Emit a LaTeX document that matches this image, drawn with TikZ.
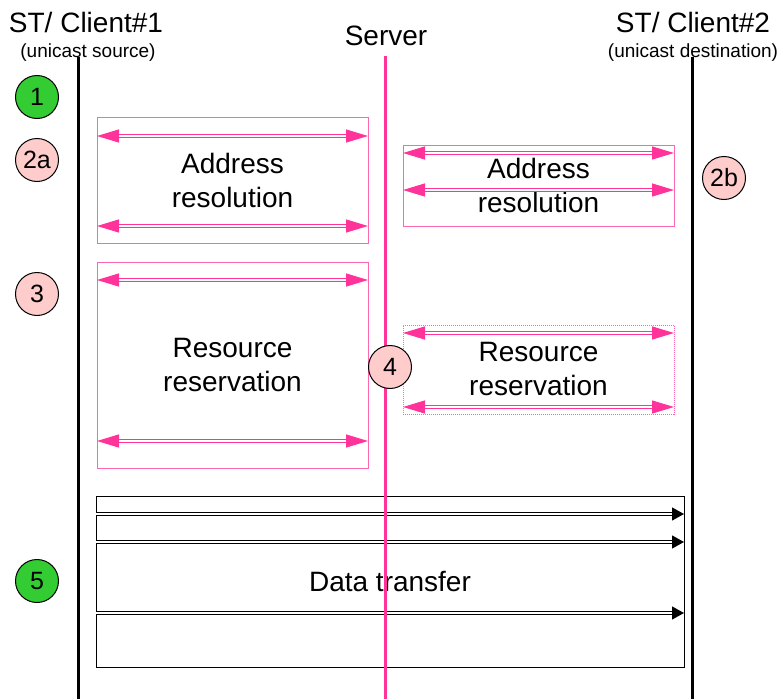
\documentclass[tikz,border=0pt]{standalone}
\usepackage{fontspec}
\setmainfont{Liberation Sans}
\usetikzlibrary{arrows.meta,positioning}
\definecolor{msgpink}{RGB}{255,51,153}
\definecolor{boxpink}{RGB}{255,102,178}
\definecolor{stepgreen}{RGB}{51,204,51}
\definecolor{steprose}{RGB}{255,204,204}

\begin{document}
\begin{tikzpicture}[x=1pt,y=-1pt,
	head node/.style={font=\fontsize{28}{35}\selectfont,inner sep=0pt},
	sub node/.style={font=\fontsize{19}{22}\selectfont,inner sep=0pt},
	step node/.style={circle,draw,line width=1pt,minimum size=43pt,inner sep=0pt,
		font=\fontsize{25}{28}\selectfont},
	pink box/.style={draw=boxpink,line width=1pt,inner sep=0pt,outer sep=0pt,
		align=center,font=\fontsize{28}{34}\selectfont},
	data box/.style={draw=black,line width=1pt,inner sep=0pt,outer sep=0pt,
		font=\fontsize{28}{34}\selectfont},
	msg arrow/.style={draw=msgpink,line width=1.2pt,double,double distance=1.8pt,
		{Triangle[length=22pt,width=13pt,fill=msgpink]}-{Triangle[length=22pt,width=13pt,fill=msgpink]}},
	data arrow/.style={draw=black,line width=1.2pt,double,double distance=1.6pt,
		-{Triangle[length=12pt,width=13pt,fill=black]}},
	life line/.style={line width=3pt}]
\useasboundingbox (0,0) rectangle (780,699);

% headings
\node[head node] (c1) at (86,22) {ST/ Client\#1};
\node[sub node] (c1s) at (88,53) {(unicast source)};
\node[head node] (srv) at (386,36) {Server};
\node[head node] (c2) at (693,22) {ST/ Client\#2};
\node[sub node] (c2s) at (693,53) {(unicast destination)};

\coordinate (c1top) at (78,57);
\coordinate (c1bot) at (78,699);
\coordinate (srvtop) at (385,56);
\coordinate (srvbot) at (385,699);
\coordinate (c2top) at (692,57);
\coordinate (c2bot) at (692,699);

\draw[life line] (c1top) -- (c1bot);
\draw[life line] (c2top) -- (c2bot);

% address resolution
\node[pink box,minimum width=271pt,minimum height=126pt] (ar1) at (232.5,180.5) {Address\\resolution};
\node[pink box,minimum width=271pt,minimum height=81pt] (ar2) at (538.5,185.5) {Address\\resolution};
\draw[msg arrow] ([yshift=-18.5pt]ar1.north west) -- ([yshift=-18.5pt]ar1.north east);
\draw[msg arrow] ([yshift=17.5pt]ar1.south west) -- ([yshift=17.5pt]ar1.south east);
\draw[msg arrow] ([yshift=-8pt]ar2.north west) -- ([yshift=-8pt]ar2.north east);
\draw[msg arrow] ([yshift=36pt]ar2.south west) -- ([yshift=36pt]ar2.south east);

% resource reservation
\node[pink box,minimum width=271pt,minimum height=206pt] (rr1) at (232.5,365) {Resource\\reservation};
\node[pink box,densely dotted,minimum width=271pt,minimum height=89pt] (rr2) at (538.5,369.5) {Resource\\reservation};
\draw[msg arrow] ([yshift=-18pt]rr1.north west) -- ([yshift=-18pt]rr1.north east);
\draw[msg arrow] ([yshift=27pt]rr1.south west) -- ([yshift=27pt]rr1.south east);
\draw[msg arrow,solid] ([yshift=-8pt]rr2.north west) -- ([yshift=-8pt]rr2.north east);
\draw[msg arrow,solid] ([yshift=7pt]rr2.south west) -- ([yshift=7pt]rr2.south east);

% data transfer
\node[data box,minimum width=588pt,minimum height=171pt] (dt) at (390,581.5) {Data transfer};
\draw[data arrow] ([yshift=-18pt]dt.north west) -- ([yshift=-18pt]dt.north east);
\draw[data arrow] ([yshift=-46pt]dt.north west) -- ([yshift=-46pt]dt.north east);
\draw[data arrow] ([yshift=-117pt]dt.north west) -- ([yshift=-117pt]dt.north east);

\draw[life line,msgpink] (srvtop) -- (srvbot);

% steps
\node[step node,fill=stepgreen] (s1) at (37,97) {1};
\node[step node,fill=steprose] (s2a) at (37,160) {2a};
\node[step node,fill=steprose] (s2b) at (724,178) {2b};
\node[step node,fill=steprose] (s3) at (37,294) {3};
\node[step node,fill=steprose] (s4) at (390,367) {4};
\node[step node,fill=stepgreen] (s5) at (37,581) {5};
\end{tikzpicture}
\end{document}
